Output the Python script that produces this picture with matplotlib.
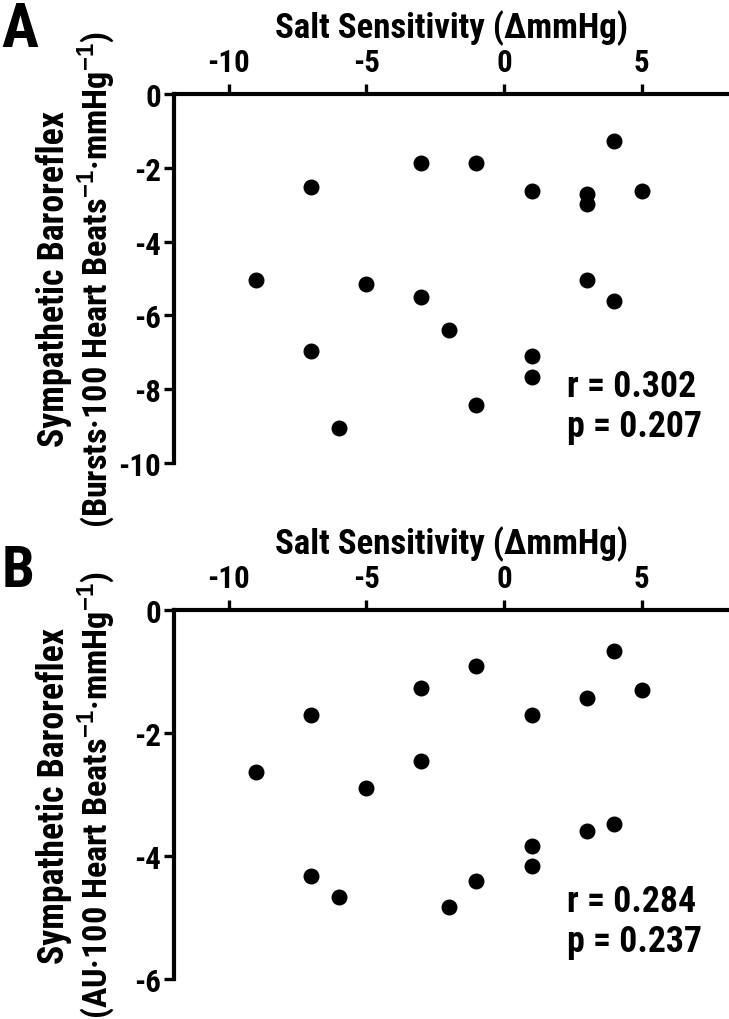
import os
import matplotlib
matplotlib.use('Agg')
import matplotlib.pyplot as plt
from matplotlib import font_manager
from matplotlib.font_manager import FontProperties

plt.rcParams['font.family'] = ['Liberation Sans', 'DejaVu Sans']
plt.rcParams['font.weight'] = 'bold'
plt.rcParams['axes.unicode_minus'] = False
plt.rcParams['mathtext.fontset'] = 'custom'
plt.rcParams['mathtext.rm'] = 'Liberation Sans:bold'
plt.rcParams['mathtext.bf'] = 'Liberation Sans:bold'

# Panel A: salt sensitivity vs sympathetic baroreflex (bursts)
salt_a = [-7, -3, -1, 4, 1, 3, 3, 5, -9, -5, -3, 3, 4, -2, -7, 1, 1, -1, -6]
baro_a = [-2.52, -1.86, -1.87, -1.27, -2.63, -2.70, -2.97, -2.63, -5.05, -5.16,
          -5.51, -5.04, -5.61, -6.39, -6.96, -7.09, -7.66, -8.44, -9.06]

# Panel B: salt sensitivity vs sympathetic baroreflex (AU)
salt_b = [-7, -3, -1, 4, 5, 3, 1, -3, -9, -5, 4, 3, 1, 1, -7, -1, -6, -2]
baro_b = [-1.70, -1.26, -0.91, -0.67, -1.30, -1.43, -1.70, -2.45, -2.63, -2.90,
          -3.48, -3.59, -3.83, -4.16, -4.33, -4.41, -4.67, -4.82]

xticks = [-10, -5, 0, 5]
yticks_a = [0, -2, -4, -6, -8, -10]
yticks_b = [0, -2, -4, -6]

# the figure uses a narrow bold sans; pick one if installed
def _is_bold(w):
    if isinstance(w, str):
        return w.lower() in ('bold', 'semibold', 'demibold', 'heavy', 'black', 'extra bold')
    return w >= 600

path = None
pref = ['liberation sans narrow', 'arial narrow', 'roboto condensed',
        'open sans condensed', 'dejavu sans condensed', 'dejavu sans',
        'noto sans', 'open sans', 'roboto']
found = []
for f in font_manager.fontManager.ttflist:
    nm = f.name.lower()
    fn = os.path.basename(f.fname).lower()
    if 'serif' in nm or 'mono' in nm or 'italic' in fn or 'oblique' in fn:
        continue
    narrow = ('narrow' in nm or 'condensed' in nm or 'narrow' in fn or 'cond' in fn
              or f.stretch in ('condensed', 'semi-condensed', 'extra-condensed'))
    if narrow and _is_bold(f.weight):
        rank = next((i for i, p in enumerate(pref) if nm.startswith(p)), 99)
        found.append((rank, f.fname))
if found:
    path = sorted(found)[0][1]
k = 1.17 if path else 1.0


def fp(size):
    if path:
        return FontProperties(fname=path, size=size * k)
    return FontProperties(family=['Liberation Sans', 'DejaVu Sans'], weight='bold',
                          size=size)


fig = plt.figure(figsize=(7.29, 10.2), dpi=100)
ax_a = fig.add_axes([0.238, 0.545, 0.762, 0.362])
ax_b = fig.add_axes([0.238, 0.039, 0.762, 0.362])


def style(ax, yticks, ylim):
    ax.set_xlim(-12, 8.17)
    ax.set_ylim(ylim, 0)
    ax.set_xticks(xticks)
    ax.set_yticks(yticks)
    ax.xaxis.tick_top()
    ax.xaxis.set_label_position('top')
    for s in ['right', 'bottom']:
        ax.spines[s].set_visible(False)
    for s in ['top', 'left']:
        ax.spines[s].set_linewidth(3)
    ax.tick_params(axis='both', direction='out', length=7, width=2.4)
    ax.tick_params(axis='x', pad=5)
    ax.tick_params(axis='y', pad=2)
    for lab in ax.get_xticklabels() + ax.get_yticklabels():
        lab.set_fontproperties(fp(19))
    ax.set_xlabel('Salt Sensitivity (\u0394mmHg)', fontproperties=fp(21.5),
                  labelpad=7)


style(ax_a, yticks_a, -10)
style(ax_b, yticks_b, -6)

ax_a.scatter(salt_a, baro_a, s=110, color='black', zorder=3, clip_on=False)
ax_b.scatter(salt_b, baro_b, s=110, color='black', zorder=3, clip_on=False)

ax_a.text(2.3, -8.45, 'r = 0.302\np = 0.207', fontproperties=fp(22),
          va='center', ha='left', linespacing=1.15)
ax_b.text(2.3, -5.06, 'r = 0.284\np = 0.237', fontproperties=fp(22),
          va='center', ha='left', linespacing=1.15)

# two-line y labels, one text per line
fig.text(54 / 729, 0.726, 'Sympathetic Baroreflex', rotation=90,
         ha='center', va='center', fontproperties=fp(22))
fig.text(97 / 729, 0.726,
         '(Bursts\u00b7100 Heart Beats$^{-1}$\u00b7mmHg$^{-1}$)', rotation=90,
         ha='center', va='center', fontproperties=fp(21))
fig.text(54 / 729, 0.22, 'Sympathetic Baroreflex', rotation=90,
         ha='center', va='center', fontproperties=fp(22))
fig.text(97 / 729, 0.22,
         '(AU\u00b7100 Heart Beats$^{-1}$\u00b7mmHg$^{-1}$)', rotation=90,
         ha='center', va='center', fontproperties=fp(21))

fig.text(0.002, 0.999, 'A', fontproperties=fp(38), ha='left', va='top')
fig.text(0.002, 0.467, 'B', fontproperties=fp(36), ha='left', va='top')

fig.savefig('out.png', dpi=100)
